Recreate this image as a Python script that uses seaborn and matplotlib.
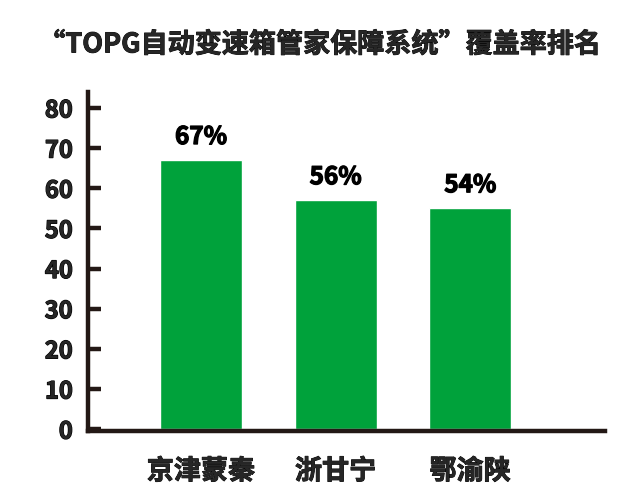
import pandas as pd
import numpy as np
import matplotlib
matplotlib.use("Agg")
import matplotlib.pyplot as plt
import matplotlib.patheffects as pe
import seaborn as sns

# data
regions = ["京津蒙秦", "浙甘宁", "鄂渝陕"]
coverage = [67, 57, 55]
value_labels = ["67%", "56%", "54%"]
yticks = [0, 10, 20, 30, 40, 50, 60, 70, 80]

sns.set_style("white")
plt.rcParams['font.family'] = ['Noto Sans CJK SC', 'DejaVu Sans']
plt.rcParams['font.weight'] = 'bold'

# the reference text is heavier than the bold face, so thicken it a little
thick = [pe.withStroke(linewidth=0.9, foreground='black')]
thick_cjk = [pe.withStroke(linewidth=0.6, foreground='black')]

df = pd.DataFrame({"region": regions, "coverage": coverage})

fig = plt.figure(figsize=(6.4, 4.94), dpi=100)
ax = fig.add_axes([0.1375, 0.128, 0.8075, 0.686])
sns.barplot(data=df, x="region", y="coverage", color="#00A23B",
            saturation=1, width=0.61, ax=ax)

txts = ax.bar_label(ax.containers[0], labels=value_labels, padding=8,
                    fontsize=17.5, fontweight='bold', color='black')
for t in txts:
    t.set_path_effects(thick)

ax.set_xlim(-0.84, 3.0)
ax.set_ylim(-0.4, 84)
ax.set_yticks(yticks)
ax.set_xlabel("")
ax.set_ylabel("")

for side in ['top', 'right']:
    ax.spines[side].set_visible(False)
for side in ['left', 'bottom']:
    ax.spines[side].set_linewidth(3.2)
    ax.spines[side].set_color('#231815')

ax.tick_params(axis='y', direction='in', length=9, width=3.2, color='#231815',
               labelsize=17, pad=11, left=True)
ax.tick_params(axis='x', length=0, labelsize=19.5, pad=19)
for lab in ax.get_yticklabels():
    lab.set_fontweight('bold')
    lab.set_path_effects(thick)
for lab in ax.get_xticklabels():
    lab.set_fontweight('bold')
    lab.set_path_effects(thick_cjk)

fig.text(0.5, 0.91, "“TOPG自动变速箱管家保障系统”覆盖率排名", ha='center', va='center',
         fontsize=19.5, fontweight='bold', path_effects=thick_cjk)

fig.savefig("out.png", dpi=100)
